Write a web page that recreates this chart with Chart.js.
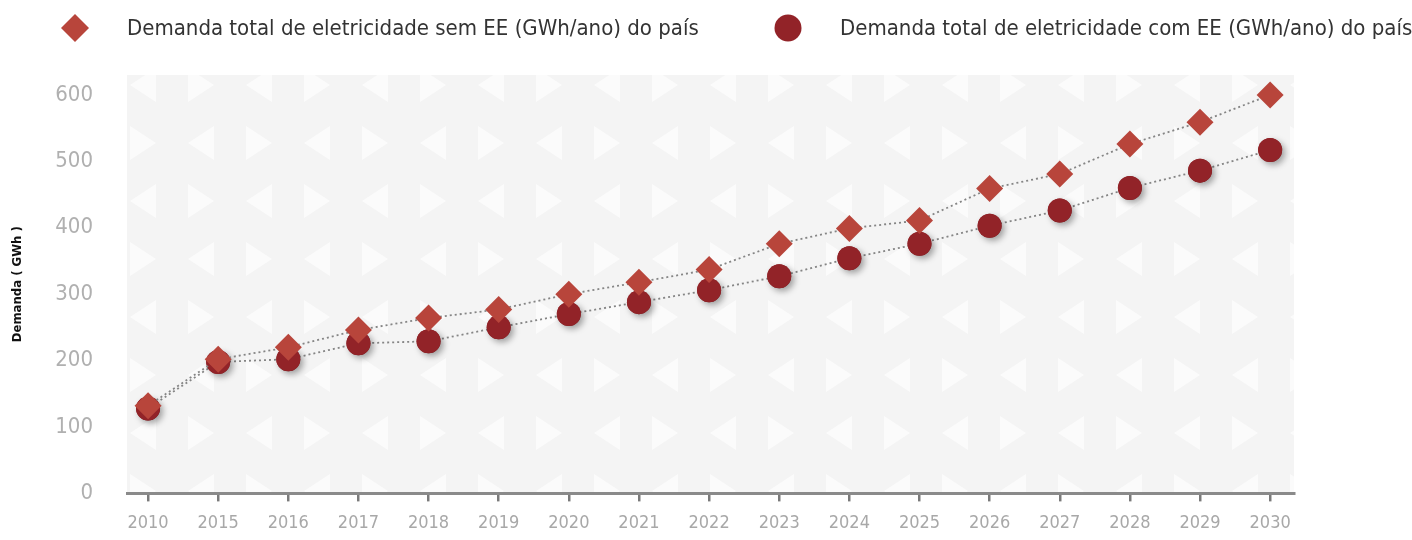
<!DOCTYPE html>
<html lang="pt">
<head>
<meta charset="utf-8">
<title>Demanda total de eletricidade</title>
<script src="https://cdn.jsdelivr.net/npm/chart.js@4.4.1/dist/chart.umd.min.js"></script>
<style>
  html, body { margin: 0; padding: 0; background: #fff; overflow: hidden; }
</style>
</head>
<body>
<canvas id="chart" width="1412" height="545"></canvas>
<script>
// ====== dados ======
const anos = ["2010", "2015", "2016", "2017", "2018", "2019", "2020", "2021", "2022",
  "2023", "2024", "2025", "2026", "2027", "2028", "2029", "2030"];
const demandaSemEE = [132, 202, 220, 246, 264, 277, 300, 318, 337, 376, 399, 411, 459, 481, 526, 559, 600];
const demandaComEE = [128, 198, 202, 226, 229, 250, 270, 288, 306, 327, 354, 376, 403, 426, 460, 486, 517];
const ticksY = [0, 100, 200, 300, 400, 500, 600];

const labelSem = "Demanda total de eletricidade sem EE (GWh/ano) do país";
const labelCom = "Demanda total de eletricidade com EE (GWh/ano) do país";
const tituloY = "Demanda ( GWh )";

// ====== estilo ======
const FONTE = "'Liberation Sans Narrow', 'DejaVu Sans Condensed', Roboto, sans-serif";
const corSem = "#b8453b";
const corCom = "#922328";

Chart.defaults.font.family = FONTE;

// ====== fundo com triângulos ======
function padraoFundo(ctx) {
  const tile = document.createElement("canvas");
  tile.width = 116; tile.height = 116;
  const t = tile.getContext("2d");
  t.fillStyle = "#f4f4f4";
  t.fillRect(0, 0, 116, 116);
  t.fillStyle = "#fbfbfb";
  const tri = (x, y, dir) => {
    t.beginPath();
    if (dir > 0) { t.moveTo(x, y); t.lineTo(x + 26, y + 17); t.lineTo(x, y + 34); }
    else { t.moveTo(x + 26, y); t.lineTo(x, y + 17); t.lineTo(x + 26, y + 34); }
    t.closePath();
    t.fill();
  };
  tri(14, 10, 1); tri(72, 10, -1); tri(14, 68, -1); tri(72, 68, 1);
  return ctx.createPattern(tile, "repeat");
}

const fundo = {
  id: "fundo",
  beforeDraw(chart) {
    const { ctx, chartArea: a } = chart;
    ctx.save();
    ctx.fillStyle = padraoFundo(ctx);
    ctx.fillRect(a.left, a.top, a.right - a.left, a.bottom - a.top);
    ctx.restore();
  }
};

// ====== sombra nos círculos ======
const sombra = {
  id: "sombra",
  afterDatasetDraw(chart, args) {
    if (args.index !== 1) return;
    const ctx = chart.ctx;
    ctx.save();
    ctx.shadowColor = "rgba(0,0,0,0.35)";
    ctx.shadowBlur = 6;
    ctx.shadowOffsetX = 3;
    ctx.shadowOffsetY = 3;
    args.meta.data.forEach(p => p.draw(ctx, chart.chartArea));
    ctx.restore();
  }
};

// ====== legenda ======
const legenda = {
  id: "legenda",
  afterDraw(chart) {
    const ctx = chart.ctx;
    const xs = [75, 788];
    const y = 28;
    chart.data.datasets.forEach((ds, i) => {
      const x = xs[i];
      ctx.save();
      ctx.fillStyle = ds.pointBackgroundColor;
      ctx.beginPath();
      if (ds.pointStyle === "rectRot") {
        ctx.moveTo(x - 14, y); ctx.lineTo(x, y - 14); ctx.lineTo(x + 14, y); ctx.lineTo(x, y + 14);
        ctx.closePath();
      } else {
        ctx.arc(x, y, 13.5, 0, Math.PI * 2);
      }
      ctx.fill();
      ctx.fillStyle = "#333";
      ctx.font = "22px " + FONTE;
      ctx.textBaseline = "middle";
      ctx.fillText(ds.label, x + 52, y + 1);
      ctx.restore();
    });
  }
};

// ====== gráfico ======
new Chart(document.getElementById("chart"), {
  type: "line",
  data: {
    datasets: [{
      label: labelSem,
      data: demandaSemEE.map((v, i) => ({ x: i, y: v })),
      borderColor: "#858585",
      borderWidth: 1.8,
      borderDash: [2, 3],
      pointStyle: "rectRot",
      pointRadius: 13.5,
      pointBorderWidth: 0,
      pointBackgroundColor: corSem,
      pointBorderColor: corSem
    }, {
      label: labelCom,
      data: demandaComEE.map((v, i) => ({ x: i, y: v })),
      borderColor: "#858585",
      borderWidth: 1.8,
      borderDash: [2, 3],
      pointStyle: "circle",
      pointRadius: 12,
      pointBorderWidth: 0,
      pointBackgroundColor: corCom,
      pointBorderColor: corCom
    }]
  },
  options: {
    responsive: false,
    animation: false,
    devicePixelRatio: 1,
    layout: { padding: { top: 75, right: 118, bottom: 0, left: 0 } },
    plugins: { legend: { display: false }, tooltip: { enabled: false } },
    events: [],
    scales: {
      x: {
        type: "linear",
        min: -0.3,
        max: 16.34,
        afterBuildTicks: s => { s.ticks = anos.map((a, i) => ({ value: i })); },
        ticks: {
          callback: v => anos[v],
          color: "#a8a8a8",
          font: { size: 18 },
          padding: 11,
          maxRotation: 0,
          autoSkip: false
        },
        grid: { drawOnChartArea: false, drawTicks: true, tickLength: 8, color: "#7a7a7a", lineWidth: 2.5 },
        border: { display: true, color: "#8a8a8a", width: 3 }
      },
      y: {
        min: 0,
        max: 630,
        afterBuildTicks: s => { s.ticks = ticksY.map(v => ({ value: v })); },
        afterFit: s => { s.width = 127; },
        ticks: { color: "#b0b0b0", font: { size: 22 }, padding: 34 },
        grid: { display: false, drawTicks: false },
        border: { display: false },
        title: {
          display: true,
          text: tituloY,
          color: "#111",
          font: { size: 13, weight: "bold" },
          padding: { top: 10, bottom: 0 }
        }
      }
    }
  },
  plugins: [fundo, sombra, legenda]
});
</script>
</body>
</html>
